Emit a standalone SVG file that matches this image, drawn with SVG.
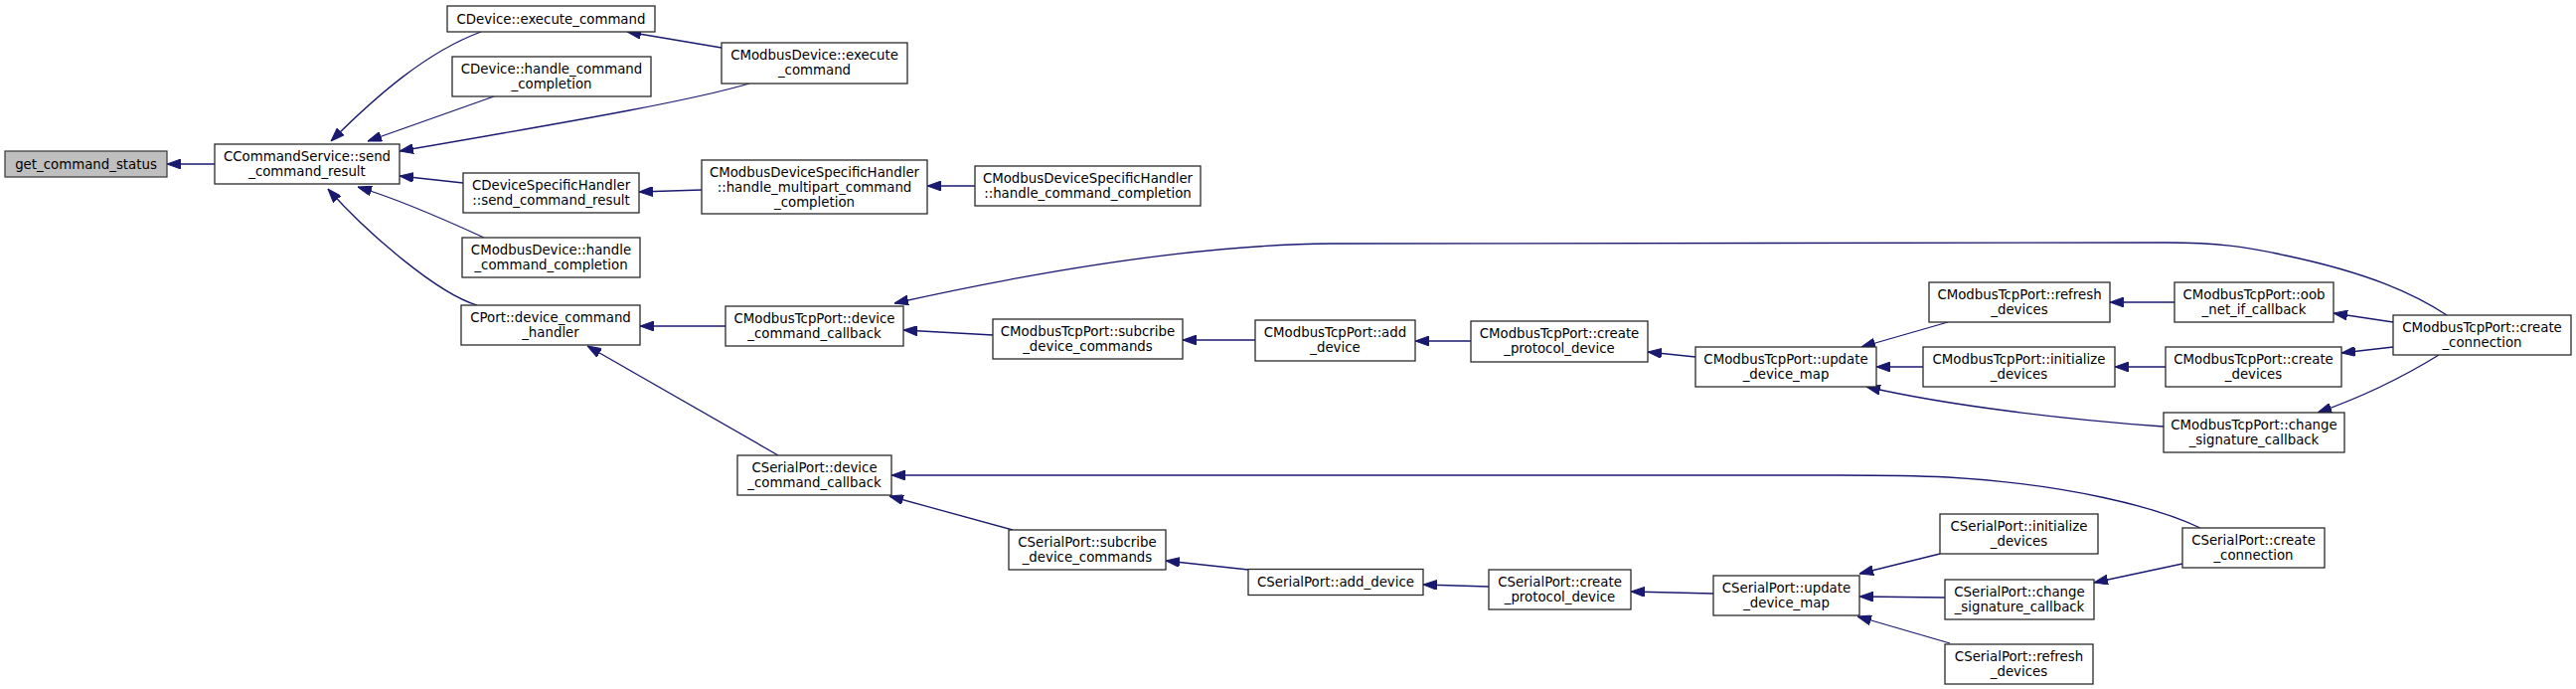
<svg xmlns="http://www.w3.org/2000/svg" width="2592" height="693" viewBox="0 0 2592 693">
<defs>
<marker id="ah" viewBox="0 0 14 10" refX="14" refY="5" markerWidth="14" markerHeight="10" markerUnits="userSpaceOnUse" orient="auto">
<path d="M0,0 L14,5 L0,10 z" fill="#191970" stroke="#191970" stroke-width="1"/>
</marker>
</defs>
<style>
.n rect{fill:#ffffff;stroke:#2a2a2a;stroke-width:1.3}
.n.root rect{fill:#bfbfbf;stroke:#404040}
.n text{font-family:"DejaVu Sans","Liberation Sans",sans-serif;font-size:13.33px;fill:#000;text-anchor:middle}
.e path{fill:none;stroke:#191970;stroke-width:1.3;marker-end:url(#ah)}
</style>
<rect width="2592" height="693" fill="#ffffff"/>
<g id="edges" class="e">
<path d="M216,165 L168,165"/>
<path d="M484,32 C430,52 380,95 333,142"/>
<path d="M497,97 L370,142"/>
<path d="M754,84 C700,100 600,118 402,152"/>
<path d="M726,48 L631,32"/>
<path d="M466,184 L402,177"/>
<path d="M487,239 C450,222 400,200 360,188"/>
<path d="M480,307 C440,295 370,235 330,190"/>
<path d="M706,191 L643,193"/>
<path d="M981,187 L933,187"/>
<path d="M730,328 L644,328"/>
<path d="M783,458 L591,348"/>
<path d="M999,337 L909,332"/>
<path d="M1263,342 L1190,342"/>
<path d="M1480,343 L1424,343"/>
<path d="M1706,359 L1658,354"/>
<path d="M1960,324 L1873,349"/>
<path d="M1935,369 L1888,369"/>
<path d="M2177,429 C2080,422 1960,408 1878,389"/>
<path d="M2188,304 L2123,304"/>
<path d="M2408,324 L2348,315"/>
<path d="M2179,369 L2128,369"/>
<path d="M2408,349 L2356,355"/>
<path d="M2454,357 C2420,378 2375,400 2332,415"/>
<path d="M2462,317 C2430,296 2385,275 2300,257 C2260,248 2230,244 2180,244 L1340,245 C1220,246 1080,265 900,305"/>
<path d="M1019,533 L895,499"/>
<path d="M1256,573 L1173,564"/>
<path d="M1498,590 L1432,588"/>
<path d="M1724,597 L1641,595"/>
<path d="M1952,557 L1871,577"/>
<path d="M1957,601 L1871,600"/>
<path d="M1962,647 L1869,620"/>
<path d="M2196,567 L2107,586"/>
<path d="M2214,531 C2170,510 2080,487 1960,480 C1920,478 1880,478 1850,478 L897,478"/>
</g>
<g id="n_get_command_status" class="n root"><rect x="5" y="152" width="163" height="26"/><text x="86.5" y="169.5">get_command_status</text></g>
<g id="n_CCommandService_send_command_result" class="n"><rect x="216" y="145" width="186" height="40"/><text x="309" y="161.5">CCommandService::send</text><text x="309" y="176.5">_command_result</text></g>
<g id="n_CDevice_execute_command" class="n"><rect x="450" y="6" width="209" height="26"/><text x="554.5" y="23.5">CDevice::execute_command</text></g>
<g id="n_CDevice_handle_command_completion" class="n"><rect x="455" y="57" width="200" height="40"/><text x="555" y="73.5">CDevice::handle_command</text><text x="555" y="88.5">_completion</text></g>
<g id="n_CDeviceSpecificHandler_send_command_result" class="n"><rect x="466" y="174" width="177" height="40"/><text x="554.5" y="190.5">CDeviceSpecificHandler</text><text x="554.5" y="205.5">::send_command_result</text></g>
<g id="n_CModbusDevice_handle_command_completion" class="n"><rect x="465" y="239" width="179" height="40"/><text x="554.5" y="255.5">CModbusDevice::handle</text><text x="554.5" y="270.5">_command_completion</text></g>
<g id="n_CPort_device_command_handler" class="n"><rect x="464" y="307" width="180" height="40"/><text x="554" y="323.5">CPort::device_command</text><text x="554" y="338.5">_handler</text></g>
<g id="n_CModbusDevice_execute_command" class="n"><rect x="726" y="43" width="187" height="41"/><text x="819.5" y="60">CModbusDevice::execute</text><text x="819.5" y="75">_command</text></g>
<g id="n_CModbusDeviceSpecificHandler_handle_multipart_command_completion" class="n"><rect x="706" y="161" width="227" height="54"/><text x="819.5" y="177.5">CModbusDeviceSpecificHandler</text><text x="819.5" y="192.5">::handle_multipart_command</text><text x="819.5" y="207.5">_completion</text></g>
<g id="n_CModbusDeviceSpecificHandler_handle_command_completion" class="n"><rect x="981" y="167" width="227" height="40"/><text x="1094.5" y="183.5">CModbusDeviceSpecificHandler</text><text x="1094.5" y="198.5">::handle_command_completion</text></g>
<g id="n_CModbusTcpPort_device_command_callback" class="n"><rect x="730" y="308" width="179" height="40"/><text x="819.5" y="324.5">CModbusTcpPort::device</text><text x="819.5" y="339.5">_command_callback</text></g>
<g id="n_CModbusTcpPort_subcribe_device_commands" class="n"><rect x="999" y="321" width="191" height="40"/><text x="1094.5" y="337.5">CModbusTcpPort::subcribe</text><text x="1094.5" y="352.5">_device_commands</text></g>
<g id="n_CModbusTcpPort_add_device" class="n"><rect x="1263" y="322" width="161" height="41"/><text x="1343.5" y="339">CModbusTcpPort::add</text><text x="1343.5" y="354">_device</text></g>
<g id="n_CModbusTcpPort_create_protocol_device" class="n"><rect x="1480" y="323" width="178" height="41"/><text x="1569" y="340">CModbusTcpPort::create</text><text x="1569" y="355">_protocol_device</text></g>
<g id="n_CModbusTcpPort_update_device_map" class="n"><rect x="1706" y="349" width="182" height="40"/><text x="1797" y="365.5">CModbusTcpPort::update</text><text x="1797" y="380.5">_device_map</text></g>
<g id="n_CModbusTcpPort_refresh_devices" class="n"><rect x="1941" y="284" width="182" height="40"/><text x="2032" y="300.5">CModbusTcpPort::refresh</text><text x="2032" y="315.5">_devices</text></g>
<g id="n_CModbusTcpPort_oob_net_if_callback" class="n"><rect x="2188" y="284" width="160" height="40"/><text x="2268" y="300.5">CModbusTcpPort::oob</text><text x="2268" y="315.5">_net_if_callback</text></g>
<g id="n_CModbusTcpPort_create_connection" class="n"><rect x="2408" y="317" width="179" height="40"/><text x="2497.5" y="333.5">CModbusTcpPort::create</text><text x="2497.5" y="348.5">_connection</text></g>
<g id="n_CModbusTcpPort_initialize_devices" class="n"><rect x="1935" y="349" width="193" height="40"/><text x="2031.5" y="365.5">CModbusTcpPort::initialize</text><text x="2031.5" y="380.5">_devices</text></g>
<g id="n_CModbusTcpPort_create_devices" class="n"><rect x="2179" y="349" width="177" height="40"/><text x="2267.5" y="365.5">CModbusTcpPort::create</text><text x="2267.5" y="380.5">_devices</text></g>
<g id="n_CModbusTcpPort_change_signature_callback" class="n"><rect x="2177" y="415" width="182" height="40"/><text x="2268" y="431.5">CModbusTcpPort::change</text><text x="2268" y="446.5">_signature_callback</text></g>
<g id="n_CSerialPort_device_command_callback" class="n"><rect x="742" y="458" width="155" height="40"/><text x="819.5" y="474.5">CSerialPort::device</text><text x="819.5" y="489.5">_command_callback</text></g>
<g id="n_CSerialPort_subcribe_device_commands" class="n"><rect x="1015" y="533" width="158" height="40"/><text x="1094" y="549.5">CSerialPort::subcribe</text><text x="1094" y="564.5">_device_commands</text></g>
<g id="n_CSerialPort_add_device" class="n"><rect x="1256" y="572.5" width="176" height="26"/><text x="1344" y="590">CSerialPort::add_device</text></g>
<g id="n_CSerialPort_create_protocol_device" class="n"><rect x="1498" y="573" width="143" height="40"/><text x="1569.5" y="589.5">CSerialPort::create</text><text x="1569.5" y="604.5">_protocol_device</text></g>
<g id="n_CSerialPort_update_device_map" class="n"><rect x="1724" y="579" width="147" height="40"/><text x="1797.5" y="595.5">CSerialPort::update</text><text x="1797.5" y="610.5">_device_map</text></g>
<g id="n_CSerialPort_initialize_devices" class="n"><rect x="1952" y="517" width="159" height="40"/><text x="2031.5" y="533.5">CSerialPort::initialize</text><text x="2031.5" y="548.5">_devices</text></g>
<g id="n_CSerialPort_create_connection" class="n"><rect x="2196" y="531" width="143" height="40"/><text x="2267.5" y="547.5">CSerialPort::create</text><text x="2267.5" y="562.5">_connection</text></g>
<g id="n_CSerialPort_change_signature_callback" class="n"><rect x="1957" y="583" width="150" height="40"/><text x="2032" y="599.5">CSerialPort::change</text><text x="2032" y="614.5">_signature_callback</text></g>
<g id="n_CSerialPort_refresh_devices" class="n"><rect x="1957" y="648" width="149" height="40"/><text x="2031.5" y="664.5">CSerialPort::refresh</text><text x="2031.5" y="679.5">_devices</text></g>
</svg>
